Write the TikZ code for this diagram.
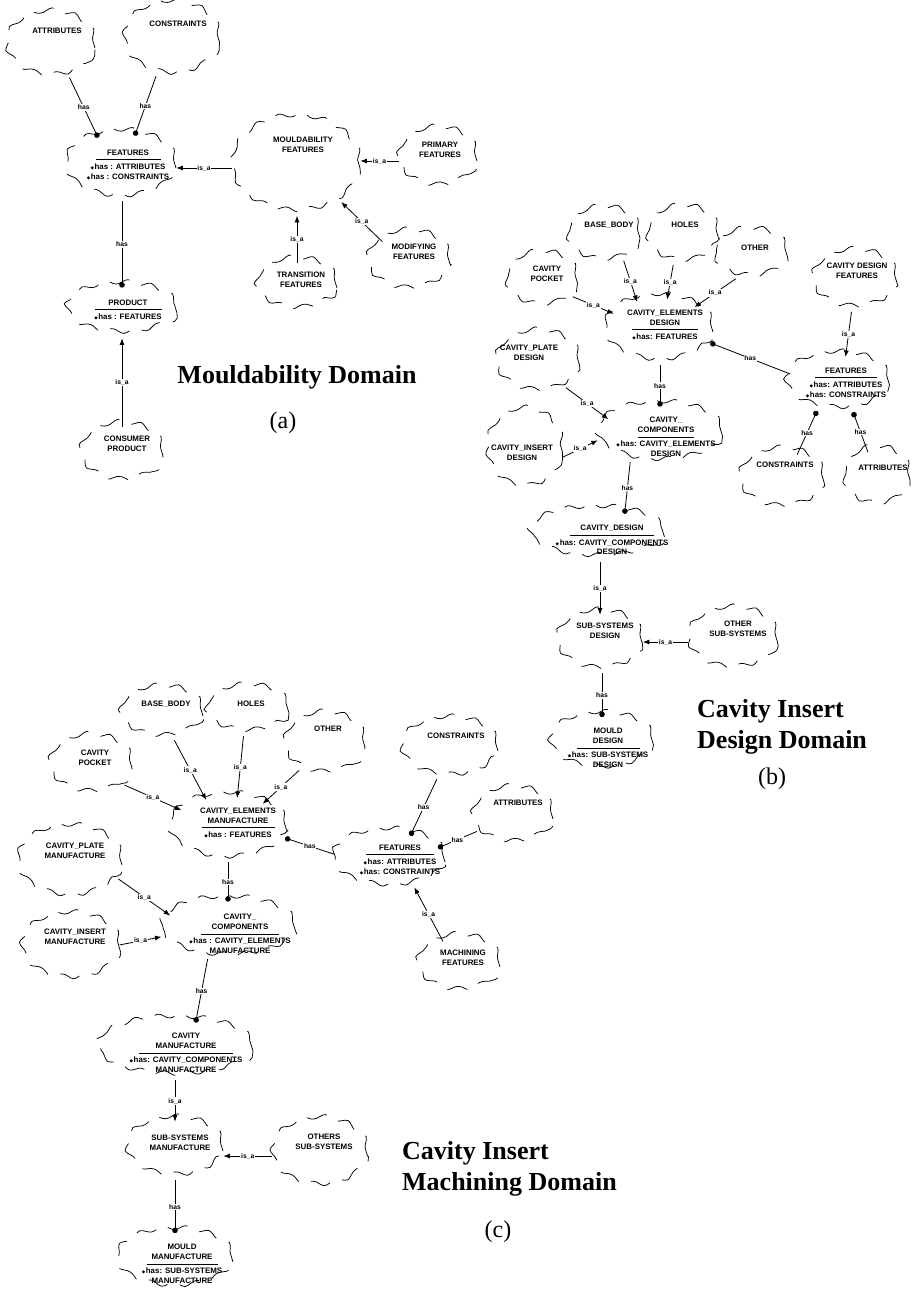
\documentclass[tikz,border=0pt]{standalone}
\usepackage{fontspec}
\setmainfont{Liberation Serif}
\newfontfamily\clsfont{Liberation Sans}
\newfontfamily\symfont{DejaVu Sans}
\usetikzlibrary{shapes.geometric,arrows.meta,decorations.pathmorphing}

% attribute marker in front of each "has" line
\newcommand\dm{{\symfont\fontsize{4.5}{4.5}\selectfont ◆}\hspace{0.6pt}}
% separator between class name and attributes
\newcommand\crule[1]{\rule{#1pt}{0.7pt}}
% a Booch class cloud: name, x, y, width, height
\newcommand\cls[5]{\node[cloud, minimum width=#4pt, minimum height=#5pt] (#1) at (#2,#3) {};}

\tikzset{
  cloud/.style={ellipse, draw, line width=0.75pt, decorate,
    decoration={snake, amplitude=2.2pt, segment length=23pt},
    dash pattern=on 21pt off 13pt, inner sep=0pt},
  ctext/.style={align=center, inner sep=0pt, font=\clsfont\bfseries\fontsize{7.9}{9.7}\selectfont},
  rel/.style={line width=0.8pt},
  isa/.style={rel, -{Latex[length=6.5pt,width=5pt]}},
  has/.style={rel, {Circle[length=5.5pt]}-},
  rlabel/.style={fill=white, inner sep=0.8pt, font=\clsfont\bfseries\fontsize{6.7}{7}\selectfont},
  title/.style={font=\bfseries\fontsize{26}{31}\selectfont, align=left, inner sep=0pt},
  tag/.style={font=\fontsize{24}{28}\selectfont, inner sep=0pt},
}

\begin{document}
\begin{tikzpicture}[x=1pt, y=-1pt]
\useasboundingbox (0,0) rectangle (918,1291);

% ---------------- (a) Mouldability domain ----------------
\cls{aAttr}{51}{48}{88}{64}
\cls{aCons}{172}{42}{95}{72}
\cls{aFeat}{121}{168}{110}{66}
\cls{aMould}{296}{168}{128}{95}
\cls{aPrim}{438}{161}{78}{58}
\cls{aMod}{409}{264}{82}{58}
\cls{aTrans}{297}{288}{80}{50}
\cls{aProd}{122}{313}{110}{50}
\cls{aCprod}{122}{456}{82}{57}

\node[ctext] (aAttrT) at (57,31) {ATTRIBUTES};
\node[ctext] (aConsT) at (178,24) {CONSTRAINTS};
\node[ctext] (aMouldT) at (303,145) {MOULDABILITY\\FEATURES};
\node[ctext] (aPrimT) at (440,150) {PRIMARY\\FEATURES};
\node[ctext] (aModT) at (414,252) {MODIFYING\\FEATURES};
\node[ctext] (aTransT) at (301,280) {TRANSITION\\FEATURES};
\node[ctext] (aCprodT) at (127,444) {CONSUMER\\PRODUCT};
\node[ctext] (aFeatT) at (128,165) {FEATURES\\[-5pt]\crule{65}\\\dm has : ATTRIBUTES\\\dm has : CONSTRAINTS};
\node[ctext] (aProdT) at (128,310) {PRODUCT\\[-5pt]\crule{67}\\\dm has : FEATURES};

\draw[has] (aFeat.127) -- node[rlabel]{has} (aAttr.302);
\draw[has] (aFeat.67) -- node[rlabel]{has} (aCons.245);
\draw[isa] (aMould.west) -- node[rlabel]{is\_a} (aMould.west -| aFeat.east);
\draw[isa] (aPrim.west) -- node[rlabel]{is\_a} (aPrim.west -| aMould.east);
\draw[isa] (aMod.140) -- node[rlabel]{is\_a} (aMould.323);
\draw[isa] (aTrans.north) -- node[rlabel]{is\_a} (aTrans.north |- aMould.south);
\draw[has] (aProd.north) -- node[rlabel]{has} (aProd.north |- aFeat.south);
\draw[isa] (aCprod.north) -- node[rlabel]{is\_a} (aCprod.north |- aProd.south);

\node[title] (aTitle) at (297,377) {Mouldability Domain};
\node[tag] (aTag) at (283,423) {(a)};

% ---------------- (b) Cavity insert design domain ----------------
\cls{bBase}{604}{238}{72}{53}
\cls{bHoles}{683}{238}{71}{55}
\cls{bOther}{751}{257}{73}{47}
\cls{bPocket}{542}{283}{71}{53}
\cls{bCdf}{855}{283}{84}{57}
\cls{bElem}{659}{332}{108}{65}
\cls{bFeat}{838}{385}{103}{56}
\cls{bPlate}{538}{365}{83}{60}
\cls{bInsert}{525}{452}{75}{78}
\cls{bComp}{660}{436}{125}{58}
\cls{bCons}{782}{482}{84}{58}
\cls{bAttr}{877}{480}{66}{57}
\cls{bCdesign}{597}{537}{135}{50}
\cls{bSub}{600}{644}{85}{58}
\cls{bOsub}{733}{642}{89}{60}
\cls{bMould}{602}{745}{103}{55}

\node[ctext] (bBaseT) at (609,225) {BASE\_BODY};
\node[ctext] (bHolesT) at (685,225) {HOLES};
\node[ctext] (bOtherT) at (755,248) {OTHER};
\node[ctext] (bPocketT) at (547,274) {CAVITY\\POCKET};
\node[ctext] (bCdfT) at (857,271) {CAVITY DESIGN\\FEATURES};
\node[ctext] (bPlateT) at (529,353) {CAVITY\_PLATE\\DESIGN};
\node[ctext] (bInsertT) at (522,453) {CAVITY\_INSERT\\DESIGN};
\node[ctext] (bConsT) at (785,465) {CONSTRAINTS};
\node[ctext] (bAttrT) at (883,468) {ATTRIBUTES};
\node[ctext] (bSubT) at (605,631) {SUB-SYSTEMS\\DESIGN};
\node[ctext] (bOsubT) at (738,629) {OTHER\\SUB-SYSTEMS};
\node[ctext] (bElemT) at (665,325) {CAVITY\_ELEMENTS\\DESIGN\\[-5pt]\crule{66}\\\dm has: FEATURES};
\node[ctext] (bFeatT) at (846,383) {FEATURES\\[-5pt]\crule{62}\\\dm has: ATTRIBUTES\\\dm has: CONSTRAINTS};
\node[ctext] (bCompT) at (666,437) {CAVITY\_\\COMPONENTS\\[-5pt]\crule{56}\\\dm has: CAVITY\_ELEMENTS\\DESIGN};
\node[ctext] (bCdesignT) at (612,540) {CAVITY\_DESIGN\\[-5pt]\crule{84}\\\dm has: CAVITY\_COMPONENTS\\DESIGN};
\node[ctext] (bMouldT) at (608,748) {MOULD\\DESIGN\\[-5pt]\crule{63}\\\dm has: SUB-SYSTEMS\\DESIGN};

\draw[isa] (bBase.311) -- node[rlabel]{is\_a} (bElem.126);
\draw[isa] (bHoles.250) -- node[rlabel]{is\_a} (bElem.76);
\draw[isa] (bOther.235) -- node[rlabel]{is\_a} (bElem.35);
\draw[isa] (bPocket.336) -- node[rlabel]{is\_a} (bElem.158);
\draw[isa] (bCdf.263) -- node[rlabel]{is\_a} (bFeat.75);
\draw[has] (bElem.348) -- node[rlabel]{has} (bFeat.167);
\draw[has] (bComp.north) -- node[rlabel]{has} (bComp.north |- bElem.south);
\draw[isa] (bPlate.321) -- node[rlabel]{is\_a} (bComp.162);
\draw[isa] (bInsert.352) -- node[rlabel]{is\_a} (bComp.184);
\draw[has] (bFeat.231) -- node[rlabel]{has} (bCons.61);
\draw[has] (bFeat.299) -- node[rlabel]{has} (bAttr.108);
\draw[has] (bCdesign.40) -- node[rlabel]{has} (bComp.221);
\draw[isa] (bSub.north |- bCdesign.south) -- node[rlabel]{is\_a} (bSub.north);
\draw[isa] (bOsub.west) -- node[rlabel]{is\_a} (bOsub.west -| bSub.east);
\draw[has] (bMould.north) -- node[rlabel]{has} (bMould.north |- bSub.south);

\node[title, anchor=west] (bTitle) at (697,727) {Cavity Insert\\Design Domain};
\node[tag] (bTag) at (772,779) {(b)};

% ---------------- (c) Cavity insert machining domain ----------------
\cls{cBase}{162}{716}{82}{50}
\cls{cHoles}{248}{713}{82}{46}
\cls{cOther}{325}{747}{80}{60}
\cls{cPocket}{91}{768}{82}{57}
\cls{cElem}{228}{830}{117}{64}
\cls{cPlate}{70}{865}{104}{70}
\cls{cInsert}{71}{950}{98}{65}
\cls{cComp}{228}{931}{135}{58}
\cls{cCons}{450}{751}{96}{58}
\cls{cAttr}{513}{819}{80}{55}
\cls{cFeat}{389}{862}{112}{56}
\cls{cMach}{459}{967}{82}{55}
\cls{cCman}{175}{1051}{156}{58}
\cls{cSub}{175}{1151}{96}{58}
\cls{cOsub}{320}{1156}{95}{67}
\cls{cMould}{175}{1262}{116}{57}

\node[ctext] (cBaseT) at (166,704) {BASE\_BODY};
\node[ctext] (cHolesT) at (251,704) {HOLES};
\node[ctext] (cOtherT) at (328,729) {OTHER};
\node[ctext] (cPocketT) at (95,758) {CAVITY\\POCKET};
\node[ctext] (cPlateT) at (75,851) {CAVITY\_PLATE\\MANUFACTURE};
\node[ctext] (cInsertT) at (75,937) {CAVITY\_INSERT\\MANUFACTURE};
\node[ctext] (cConsT) at (456,736) {CONSTRAINTS};
\node[ctext] (cAttrT) at (518,803) {ATTRIBUTES};
\node[ctext] (cMachT) at (463,958) {MACHINING\\FEATURES};
\node[ctext] (cSubT) at (180,1143) {SUB-SYSTEMS\\MANUFACTURE};
\node[ctext] (cOsubT) at (324,1142) {OTHERS\\SUB-SYSTEMS};
\node[ctext] (cElemT) at (238,823) {CAVITY\_ELEMENTS\\MANUFACTURE\\[-5pt]\crule{73}\\\dm has : FEATURES};
\node[ctext] (cFeatT) at (400,860) {FEATURES\\[-5pt]\crule{68}\\\dm has: ATTRIBUTES\\\dm has: CONSTRAINTS};
\node[ctext] (cCompT) at (240,934) {CAVITY\_\\COMPONENTS\\[-5pt]\crule{78}\\\dm has : CAVITY\_ELEMENTS\\MANUFACTURE};
\node[ctext] (cCmanT) at (186,1053) {CAVITY\\MANUFACTURE\\[-5pt]\crule{94}\\\dm has: CAVITY\_COMPONENTS\\MANUFACTURE};
\node[ctext] (cMouldT) at (182,1264) {MOULD\\MANUFACTURE\\[-5pt]\crule{71}\\\dm has: SUB-SYSTEMS\\MANUFACTURE};

\draw[isa] (cBase.297) -- node[rlabel]{is\_a} (cElem.126);
\draw[isa] (cHoles.259) -- node[rlabel]{is\_a} (cElem.74);
\draw[isa] (cOther.222) -- node[rlabel]{is\_a} (cElem.37);
\draw[isa] (cPocket.333) -- node[rlabel]{is\_a} (cElem.157);
\draw[has] (cElem.352) -- node[rlabel]{has} (cFeat.172);
\draw[has] (cComp.north) -- node[rlabel]{has} (cComp.north |- cElem.south);
\draw[has] (cFeat.51) -- node[rlabel]{has} (cCons.245);
\draw[has] (cFeat.16) -- node[rlabel]{has} (cAttr.199);
\draw[isa] (cMach.122) -- node[rlabel]{is\_a} (cFeat.315);
\draw[isa] (cPlate.344) -- node[rlabel]{is\_a} (cComp.165);
\draw[isa] (cInsert.6) -- node[rlabel]{is\_a} (cComp.185);
\draw[has] (cCman.54) -- node[rlabel]{has} (cComp.234);
\draw[isa] (cCman.south) -- node[rlabel]{is\_a} (cSub.north);
\draw[isa] (cOsub.west) -- node[rlabel]{is\_a} (cOsub.west -| cSub.east);
\draw[has] (cMould.north) -- node[rlabel]{has} (cSub.south);

\node[title, anchor=west] (cTitle) at (402,1169) {Cavity Insert\\Machining Domain};
\node[tag] (cTag) at (498,1232) {(c)};
\end{tikzpicture}
\end{document}
